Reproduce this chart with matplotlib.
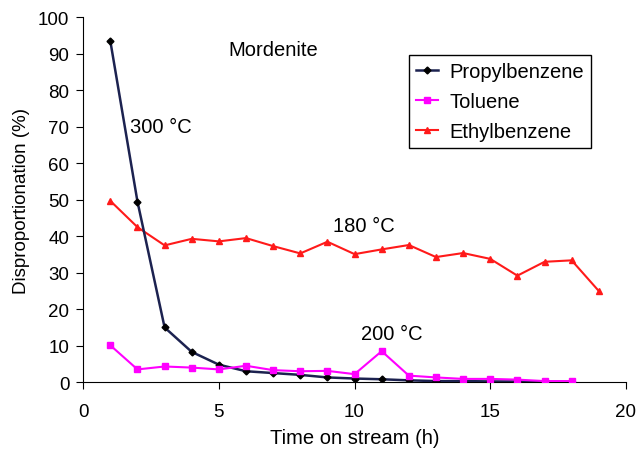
import matplotlib
matplotlib.use("Agg")
import matplotlib.pyplot as plt

plt.rcParams['font.family'] = ['Liberation Sans', 'DejaVu Sans']

# hours on stream
hours_pb = [1, 2, 3, 4, 5, 6, 7, 8, 9, 10, 11, 12, 13, 14, 15, 16, 17, 18]
propylbenzene = [93.5, 49.5, 15.0, 8.3, 4.8, 3.0, 2.5, 2.0, 1.3, 1.0, 0.8, 0.5, 0.3, 0.3, 0.2, 0.2, 0.1, 0.1]

hours_tol = [1, 2, 3, 4, 5, 6, 7, 8, 9, 10, 11, 12, 13, 14, 15, 16, 17, 18]
toluene = [10.1, 3.5, 4.3, 4.0, 3.5, 4.5, 3.3, 3.0, 3.1, 2.2, 8.5, 1.8, 1.3, 0.9, 0.9, 0.7, 0.3, 0.3]

hours_eb = [1, 2, 3, 4, 5, 6, 7, 8, 9, 10, 11, 12, 13, 14, 15, 16, 17, 18, 19]
ethylbenzene = [49.7, 42.5, 37.5, 39.3, 38.6, 39.5, 37.3, 35.3, 38.5, 35.1, 36.4, 37.6, 34.3, 35.4, 33.8, 29.2, 33.0, 33.4, 25.0]

fs = 14.5

fig, ax = plt.subplots(figsize=(6.4, 4.6), dpi=100)
fig.subplots_adjust(left=0.13, right=0.978, top=0.96, bottom=0.167)

ax.plot(hours_pb, propylbenzene, color='#1c2250', lw=1.8, marker='D', ms=3.5,
        mfc='black', mec='black', label='Propylbenzene', zorder=3)
ax.plot(hours_tol, toluene, color='#ff00ff', lw=1.5, marker='s', ms=5,
        label='Toluene', zorder=4)
ax.plot(hours_eb, ethylbenzene, color='#ff1a1a', lw=1.5, marker='^', ms=5,
        label='Ethylbenzene', zorder=2)

ax.set_xlim(0, 20)
ax.set_ylim(0, 100)
ax.set_xticks(range(0, 21, 5))
ax.set_yticks(range(0, 101, 10))
ax.spines['top'].set_visible(False)
ax.spines['right'].set_visible(False)
ax.tick_params(axis='x', direction='out', length=5, pad=10, labelsize=13.5)
ax.tick_params(axis='y', direction='out', length=5, pad=5, labelsize=13.5)
ax.set_xlabel('Time on stream (h)', fontsize=fs, labelpad=6)
ax.set_ylabel('Disproportionation (%)', fontsize=13.5, labelpad=6)

ax.text(5.34, 89.6, 'Mordenite', fontsize=fs)
ax.text(1.73, 68.5, '300 °C', fontsize=fs)
ax.text(9.2, 41.4, '180 °C', fontsize=fs)
ax.text(10.24, 11.8, '200 °C', fontsize=fs)

leg = ax.legend(loc='upper left', bbox_to_anchor=(0.6, 0.898), fontsize=fs,
                fancybox=False, framealpha=1, edgecolor='black',
                handlelength=1.1, handletextpad=0.55, borderpad=0.35,
                labelspacing=0.55, borderaxespad=0)
leg.get_frame().set_linewidth(1.0)

fig.savefig('out.png', dpi=100)
